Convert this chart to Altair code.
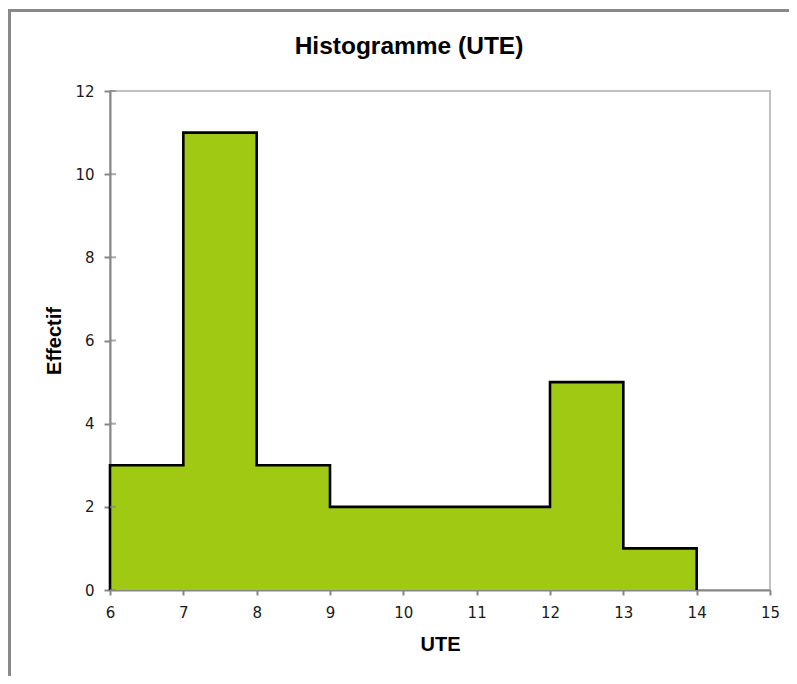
import altair as alt
import pandas as pd

# Data
bin_left = [6, 7, 8, 9, 10, 11, 12, 13]
counts = [3, 11, 3, 2, 2, 2, 5, 1]
bin_width = 1
x_ticks = [6, 7, 8, 9, 10, 11, 12, 13, 14, 15]
y_ticks = [0, 2, 4, 6, 8, 10, 12]
chart_title = "Histogramme (UTE)"

# Step profile of the histogram (fill)
fill_df = pd.DataFrame({
    "x": bin_left + [bin_left[-1] + bin_width],
    "y": counts + [0],
})
# Outline profile (starts at the baseline)
line_df = pd.DataFrame({
    "x": [bin_left[0]] + bin_left + [bin_left[-1] + bin_width],
    "y": [0] + counts + [0],
})
line_df["order"] = range(len(line_df))
ytick_df = pd.DataFrame({"y": y_ticks})

W, H = 660, 499
AXIS_GRAY = "#868686"

xscale = alt.Scale(domain=[6, 15], nice=False, zero=False)
yscale = alt.Scale(domain=[0, 12], nice=False)

xaxis = alt.Axis(
    values=x_ticks, format="d", grid=False,
    tickSize=5, tickWidth=2, tickColor=AXIS_GRAY,
    domainColor=AXIS_GRAY, domainWidth=2,
    labelFont="DejaVu Sans", labelFontSize=15, labelColor="#1a1a1a",
    labelPadding=10, labelFlush=False,
    title="UTE", titleFont="Liberation Sans", titleFontSize=20,
    titleFontWeight="bold", titleColor="#000000", titlePadding=14,
)
yaxis = alt.Axis(
    values=y_ticks, format="d", grid=False,
    tickSize=6, tickWidth=2, tickColor=AXIS_GRAY,
    domainColor=AXIS_GRAY, domainWidth=2,
    labelFont="DejaVu Sans", labelFontSize=15, labelColor="#1a1a1a",
    labelPadding=10, labelFlush=False,
    title="Effectif", titleFont="Liberation Sans", titleFontSize=20,
    titleFontWeight="bold", titleColor="#000000", titlePadding=10,
)

area = alt.Chart(fill_df).mark_area(
    interpolate="step-after", color="#9FC913", opacity=1
).encode(
    x=alt.X("x:Q", scale=xscale, axis=xaxis),
    y=alt.Y("y:Q", scale=yscale, axis=yaxis),
)

outline = alt.Chart(line_df).mark_line(
    interpolate="step-after", color="#000000", strokeWidth=2.6
).encode(
    x=alt.X("x:Q", scale=xscale),
    y=alt.Y("y:Q", scale=yscale),
    order="order:Q",
)

inner_ticks = alt.Chart(ytick_df).mark_tick(
    color=AXIS_GRAY, thickness=2, size=6
).encode(
    x=alt.value(3),
    y=alt.Y("y:Q", scale=yscale),
)

frame = alt.Chart(pd.DataFrame({"a": [0]})).mark_rect(
    filled=False, stroke="#898989", strokeWidth=3, clip=False
).encode(
    x=alt.value(-100.5), x2=alt.value(W + 60),
    y=alt.value(-80.5), y2=alt.value(H + 140),
)

title = alt.Chart(pd.DataFrame({"t": [chart_title]})).mark_text(
    font="Liberation Sans", fontSize=24.5, fontWeight="bold", color="#000000",
    align="center", baseline="alphabetic",
).encode(
    text="t:N",
    x=alt.value(W / 2 - 31),
    y=alt.value(-37),
)

chart = alt.layer(area, outline, inner_ticks, frame, title).properties(
    width=W, height=H,
    autosize=alt.AutoSizeParams(type="none"),
    padding={"left": 102, "top": 83, "right": 19, "bottom": 86},
).configure_view(
    stroke="#C0C0C0", strokeWidth=2
)

chart.save("out.html", embed_options={"renderer": "svg", "actions": False})
